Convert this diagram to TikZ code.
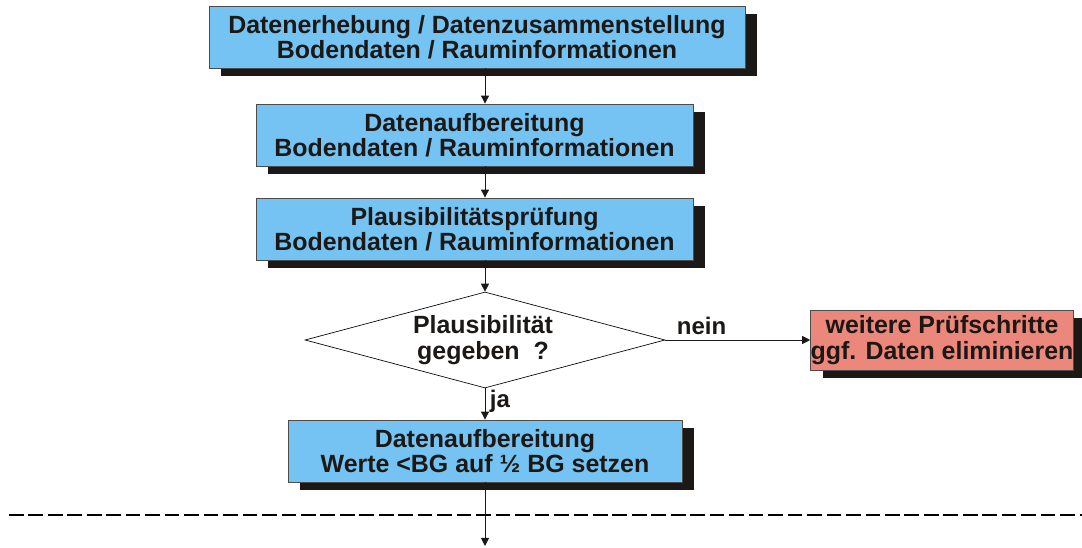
\documentclass[tikz,border=0pt]{standalone}
\usepackage{fontspec}
\setmainfont{Liberation Sans}
\usetikzlibrary{shapes.geometric,shadows,arrows.meta}
\definecolor{boxblue}{HTML}{74C3F2}
\definecolor{boxred}{HTML}{EC877B}
\definecolor{shade}{HTML}{1B1816}
\begin{document}
\begin{tikzpicture}[x=0.75pt,y=-0.75pt,
  txt/.style={font=\bfseries\fontsize{18.7}{19}\selectfont,align=center,text=shade},
  shadowed/.style={drop shadow={shadow xshift=9pt,shadow yshift=-6pt,fill=shade,opacity=1}},
  stepbox/.style={txt,draw=black!70,line width=0.6pt,fill=boxblue,shadowed,inner sep=0pt,minimum height=62*0.75pt},
  alertbox/.style={txt,draw=black!70,line width=0.6pt,fill=boxred,shadowed,inner sep=0pt,minimum height=60*0.75pt},
  decision/.style={diamond,draw=black,line width=0.5pt,inner sep=0pt,minimum width=360*0.75pt,minimum height=96*0.75pt},
  flow/.style={draw=shade,line width=0.7pt,-{Triangle[length=6pt,width=6pt]}},
  lbl/.style={font=\bfseries\fontsize{18}{20}\selectfont,text=shade}]
\useasboundingbox (0,0) rectangle (1082,548);

\node[stepbox,minimum width=536*0.75pt] (b1) at (477,37)
  {Datenerhebung / Datenzusammenstellung\\Bodendaten / Rauminformationen};
\node[stepbox,minimum width=437*0.75pt] (b2) at (474.5,135)
  {Datenaufbereitung\\Bodendaten / Rauminformationen};
\node[stepbox,minimum width=437*0.75pt] (b3) at (474.5,229)
  {Plausibilitätsprüfung\\Bodendaten / Rauminformationen};
\node[decision] (d) at (485,340) {};
\node[txt] (dt) at (483,340) {Plausibilität\\gegeben\ \ ?};
\node[alertbox,minimum width=262*0.75pt] (r) at (942,340)
  {weitere Prüfschritte\\ggf. Daten eliminieren};
\node[stepbox,minimum width=394*0.75pt] (b5) at (485,451)
  {Datenaufbereitung\\Werte <BG auf ½ BG setzen};

\coordinate (endpt) at (485,546);
\coordinate (dl) at (9,515);
\coordinate (dr) at (1082,515);

\draw[flow] (b1.south -| d.north) -- (b2.north -| d.north);
\draw[flow] (b2.south -| d.north) -- (b3.north -| d.north);
\draw[flow] (b3.south -| d.north) -- (d.north);
\draw[flow] (d.east) -- node[lbl,above,pos=0.25] (nein) {nein} (r.west);
\draw[flow] (d.south) -- node[lbl,right,pos=0.4] (ja) {ja} (b5.north);
\draw[flow] (b5.south) -- (endpt);
\draw[shade,line width=2pt,dash pattern=on 11pt off 3.6pt] (dl) -- (dr);
\end{tikzpicture}
\end{document}
